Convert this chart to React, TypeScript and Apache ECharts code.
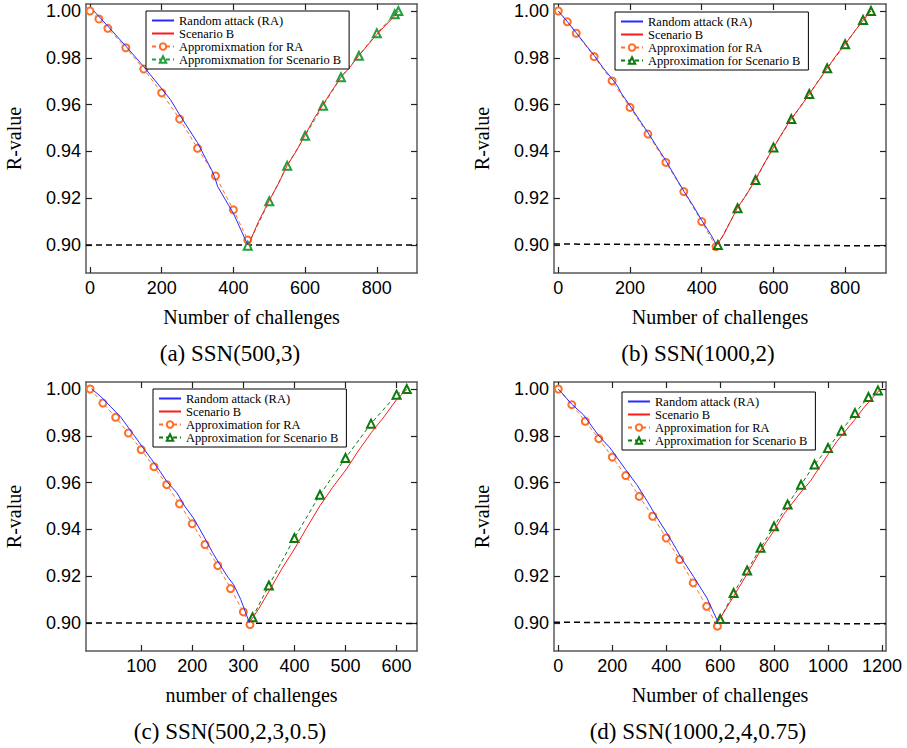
import React, { useEffect, useRef } from "react";
import * as echarts from "echarts";

// ---------- data ----------
const yTicks = [0.9, 0.92, 0.94, 0.96, 0.98, 1.0];
const xTicksA = [0, 200, 400, 600, 800];
const xTicksB = [0, 200, 400, 600, 800];
const xTicksC = [100, 200, 300, 400, 500, 600];
const xTicksD = [0, 200, 400, 600, 800, 1000, 1200];

// (a) SSN(500,3)
const aRA = [[11, 1.0], [50, 0.9935], [100, 0.985], [150, 0.9762], [200, 0.9668], [225, 0.962], [250, 0.9556], [300, 0.9437], [340, 0.9318], [350, 0.928], [356, 0.925], [400, 0.9135], [440, 0.9]];
const aSB = [[442, 0.9], [470, 0.91], [500, 0.919], [525, 0.926], [550, 0.934], [575, 0.94], [600, 0.947], [625, 0.954], [650, 0.96], [675, 0.966], [700, 0.9717], [725, 0.976], [750, 0.981], [800, 0.99], [850, 0.998], [860, 1.0]];
const aApxRAx = [0, 25, 50, 100, 150, 200, 250, 300, 350, 400, 440];
const aApxRAy = [1.0, 0.9966, 0.9926, 0.9843, 0.9752, 0.965, 0.9538, 0.9413, 0.9295, 0.915, 0.9021];
const aApxSBx = [440, 500, 550, 600, 650, 700, 750, 800, 850, 860];
const aApxSBy = [0.8997, 0.9187, 0.9339, 0.9467, 0.9595, 0.9717, 0.9809, 0.9905, 0.9986, 1.0];
const aThr = [[-11, 0.9], [912, 0.9]];

// (b) SSN(1000,2)
const bRA = [[0, 1.0], [25, 0.9955], [50, 0.9907], [75, 0.9858], [100, 0.981], [125, 0.9757], [150, 0.971], [165, 0.968], [175, 0.965], [200, 0.9595], [225, 0.9537], [250, 0.948], [275, 0.942], [300, 0.936], [325, 0.9295], [350, 0.923], [375, 0.917], [400, 0.9105], [425, 0.9045], [437, 0.9012], [440, 0.9]];
const bSB = [[442, 0.9], [460, 0.904], [500, 0.916], [525, 0.9215], [550, 0.928], [575, 0.935], [600, 0.9415], [625, 0.948], [650, 0.954], [675, 0.959], [700, 0.9645], [725, 0.97], [750, 0.9755], [775, 0.981], [800, 0.9858], [825, 0.991], [850, 0.996], [872, 1.0]];
const bApxRAx = [0, 25, 50, 100, 150, 200, 250, 300, 350, 400, 440];
const bApxRAy = [1.0, 0.9954, 0.9905, 0.9805, 0.9701, 0.9588, 0.9474, 0.9353, 0.9228, 0.91, 0.8993];
const bApxSBx = [445, 500, 550, 600, 650, 700, 750, 800, 850, 872];
const bApxSBy = [0.9, 0.9157, 0.9278, 0.9417, 0.9538, 0.9645, 0.9755, 0.9858, 0.9962, 1.0];
const bThr = [[-12, 0.9004], [914, 0.8996]];

// (c) SSN(500,2,3,0.5)
const cRA = [[3, 1.0], [20, 0.997], [40, 0.9925], [60, 0.988], [85, 0.9805], [100, 0.976], [120, 0.97], [137, 0.9648], [150, 0.9605], [170, 0.9556], [185, 0.95], [202, 0.9449], [215, 0.94], [228, 0.9349], [240, 0.93], [254, 0.9249], [270, 0.9195], [281, 0.9164], [295, 0.91], [312, 0.9]];
const cSB = [[313, 0.9005], [330, 0.906], [351, 0.9138], [375, 0.923], [400, 0.9316], [425, 0.941], [450, 0.9501], [475, 0.958], [502, 0.9658], [525, 0.9735], [551, 0.9815], [575, 0.988], [600, 0.9955], [621, 1.0]];
const cApxRAx = [0, 25, 50, 75, 100, 125, 150, 175, 200, 225, 250, 275, 300, 313];
const cApxRAy = [1.0, 0.994, 0.9879, 0.9812, 0.9741, 0.9668, 0.9591, 0.9509, 0.9424, 0.9335, 0.9245, 0.9147, 0.9047, 0.8993];
const cApxSBx = [318, 350, 400, 450, 500, 550, 600, 620];
const cApxSBy = [0.9024, 0.916, 0.9363, 0.9548, 0.9705, 0.9852, 0.9976, 1.0];
const cThr = [[-8, 0.9], [640, 0.8998]];

// (d) SSN(1000,2,4,0.75)
const dRA = [[0, 1.0], [50, 0.9935], [93, 0.989], [150, 0.98], [192, 0.9748], [250, 0.9655], [291, 0.9591], [330, 0.952], [359, 0.9463], [402, 0.9385], [439, 0.9313], [452, 0.9285], [501, 0.9199], [551, 0.9107], [588, 0.9014], [592, 0.9]];
const dSB = [[592, 0.9005], [650, 0.9114], [700, 0.921], [748, 0.9306], [800, 0.9395], [835, 0.9463], [900, 0.956], [934, 0.9605], [1000, 0.972], [1033, 0.9776], [1100, 0.987], [1132, 0.9919], [1194, 1.0]];
const dApxRAx = [0, 50, 100, 150, 200, 250, 300, 350, 400, 450, 500, 550, 590];
const dApxRAy = [1.0, 0.9933, 0.9862, 0.9788, 0.9709, 0.963, 0.9541, 0.9456, 0.9363, 0.9271, 0.9171, 0.9071, 0.8986];
const dApxSBx = [600, 650, 700, 750, 800, 850, 900, 950, 1000, 1050, 1100, 1150, 1185];
const dApxSBy = [0.9017, 0.9128, 0.9224, 0.9321, 0.9413, 0.9506, 0.9591, 0.9677, 0.9748, 0.9822, 0.9897, 0.9966, 0.9994];
const dThr = [[-16, 0.9003], [1215, 0.8996]];

const captions = ["(a) SSN(500,3)", "(b) SSN(1000,2)", "(c) SSN(500,2,3,0.5)", "(d) SSN(1000,2,4,0.75)"];
const xNames = ["Number of challenges", "Number of challenges", "number of challenges", "Number of challenges"];
const nameRA = "Random attack (RA)";
const nameSB = "Scenario B";
const namesApxA = ["Appromixmation for RA", "Appromixmation for Scenario B"];
const namesApx = ["Approximation for RA", "Approximation for Scenario B"];

const zip = (xs: number[], ys: number[]) => xs.map((x, i) => [x, ys[i]]);

export default function App() {
  const ref = useRef<HTMLDivElement>(null);
  useEffect(() => {
    if (!ref.current) return;
    const chart = echarts.init(ref.current, undefined, { renderer: "svg" });

    const SANS = "Liberation Sans";
    const SERIF = "Liberation Serif";
    const BLUE = "#2a2aff";
    const RED = "#ff1a1a";
    const ORANGE = "#ff6f2a";
    const GREEN_A = "#22a040";
    const GREEN = "#0c7a0c";
    const FRAME = "#5a5a5a";

    const grids = [
      { left: 86, top: 4, width: 331, height: 269 },
      { left: 554, top: 4, width: 332, height: 269 },
      { left: 86, top: 382, width: 331, height: 269 },
      { left: 554, top: 382, width: 332, height: 269 },
    ];
    const xRanges = [
      [-11, 912, xTicksA],
      [-12, 914, xTicksB],
      [-8, 640, xTicksC],
      [-16, 1215, xTicksD],
    ] as [number, number, number[]][];

    const xAxis: any[] = [];
    const yAxis: any[] = [];
    const lineCommon = { show: true, onZero: false, lineStyle: { color: FRAME, width: 1.5 } };
    xRanges.forEach(([min, max, ticks], i) => {
      xAxis.push({
        type: "value", gridIndex: i, min, max, position: "bottom",
        axisLine: lineCommon,
        axisTick: { show: true, inside: true, length: 6, customValues: ticks, lineStyle: { color: "#222", width: 1.2 } },
        axisLabel: { customValues: ticks, fontSize: 18, fontFamily: SANS, color: "#000", margin: 6, formatter: (v: number) => String(v) },
        splitLine: { show: false },
        name: xNames[i], nameLocation: "middle", nameGap: 34,
        nameTextStyle: { fontFamily: SERIF, fontSize: 20, color: "#000" },
      });
      xAxis.push({
        type: "value", gridIndex: i, min, max, position: "top",
        axisLine: lineCommon,
        axisTick: { show: true, inside: true, length: 6, customValues: ticks, lineStyle: { color: "#222", width: 1.2 } },
        axisLabel: { show: false }, splitLine: { show: false },
      });
      yAxis.push({
        type: "value", gridIndex: i, min: 0.888, max: 1.003, position: "left",
        axisLine: lineCommon,
        axisTick: { show: true, inside: true, length: 6, customValues: yTicks, lineStyle: { color: "#222", width: 1.2 } },
        axisLabel: { customValues: yTicks, fontSize: 18, fontFamily: SANS, color: "#000", margin: 5, formatter: (v: number) => v.toFixed(2) },
        splitLine: { show: false },
        name: "R-value", nameLocation: "middle", nameGap: 62, nameRotate: 90,
        nameTextStyle: { fontFamily: SERIF, fontSize: 20, color: "#000" },
      });
      yAxis.push({
        type: "value", gridIndex: i, min: 0.888, max: 1.003, position: "right",
        axisLine: lineCommon,
        axisTick: { show: true, inside: true, length: 6, customValues: yTicks, lineStyle: { color: "#222", width: 1.2 } },
        axisLabel: { show: false }, splitLine: { show: false },
      });
    });

    const panels = [
      { ra: aRA, sb: aSB, arx: aApxRAx, ary: aApxRAy, asx: aApxSBx, asy: aApxSBy, thr: aThr, names: namesApxA, green: GREEN_A },
      { ra: bRA, sb: bSB, arx: bApxRAx, ary: bApxRAy, asx: bApxSBx, asy: bApxSBy, thr: bThr, names: namesApx, green: GREEN },
      { ra: cRA, sb: cSB, arx: cApxRAx, ary: cApxRAy, asx: cApxSBx, asy: cApxSBy, thr: cThr, names: namesApx, green: GREEN },
      { ra: dRA, sb: dSB, arx: dApxRAx, ary: dApxRAy, asx: dApxSBx, asy: dApxSBy, thr: dThr, names: namesApx, green: GREEN },
    ];

    const series: any[] = [];
    panels.forEach((p, i) => {
      const ax = { xAxisIndex: 2 * i, yAxisIndex: 2 * i };
      series.push({
        type: "line", ...ax, data: p.thr, symbol: "none", silent: true,
        lineStyle: { color: "#000", width: 1.5, type: [6, 4] }, z: 1,
      });
      series.push({
        type: "line", name: p.names[0], ...ax, data: zip(p.arx, p.ary),
        symbol: "emptyCircle", symbolSize: 7, showSymbol: true,
        itemStyle: { color: ORANGE, borderWidth: 1.1 },
        lineStyle: { color: ORANGE, width: 1, type: [4, 3] }, z: 2,
      });
      series.push({
        type: "line", name: p.names[1], ...ax, data: zip(p.asx, p.asy),
        symbol: "emptyTriangle", symbolSize: 8, showSymbol: true,
        itemStyle: { color: p.green, borderWidth: 1.1 },
        lineStyle: { color: p.green, width: 1, type: [4, 3] }, z: 2,
      });
      series.push({
        type: "line", name: nameRA, ...ax, data: p.ra, symbol: "none",
        itemStyle: { color: BLUE }, lineStyle: { color: BLUE, width: 1 }, z: 3,
      });
      series.push({
        type: "line", name: nameSB, ...ax, data: p.sb, symbol: "none",
        itemStyle: { color: RED }, lineStyle: { color: RED, width: 1 }, z: 3,
      });
    });

    const legendPos = [
      { left: 146, top: 11 },
      { left: 615, top: 12 },
      { left: 153, top: 389 },
      { left: 622, top: 392 },
    ];
    const legend = legendPos.map((pos, i) => ({
      ...pos,
      orient: "vertical",
      data: [
        { name: nameRA, itemStyle: { opacity: 0 } },
        { name: nameSB, itemStyle: { opacity: 0 } },
        { name: panels[i].names[0] },
        { name: panels[i].names[1] },
      ],
      itemWidth: 22, itemHeight: 8, itemGap: 0,
      padding: [3, 8, 3, 5],
      borderColor: "#000", borderWidth: 1, borderRadius: 0,
      backgroundColor: "#fff",
      selectedMode: false,
      textStyle: { fontFamily: SERIF, fontSize: 12.5, color: "#000" },
    }));

    const capPos = [[230, 353], [698, 353], [230, 731], [698, 731]];
    const graphic = captions.map((t, i) => ({
      type: "text", x: capPos[i][0], y: capPos[i][1],
      style: { text: t, fontFamily: SERIF, fontSize: 23, fill: "#000", align: "center", verticalAlign: "middle" },
    }));

    chart.setOption({
      animation: false,
      backgroundColor: "#fff",
      grid: grids.map((g) => ({ ...g, containLabel: false, outerBoundsMode: "none" })),
      xAxis, yAxis, series, legend, graphic,
    });
    return () => chart.dispose();
  }, []);
  return <div ref={ref} style={{ position: "absolute", left: 0, top: 0, width: 907, height: 748, background: "#fff" }} />;
}
